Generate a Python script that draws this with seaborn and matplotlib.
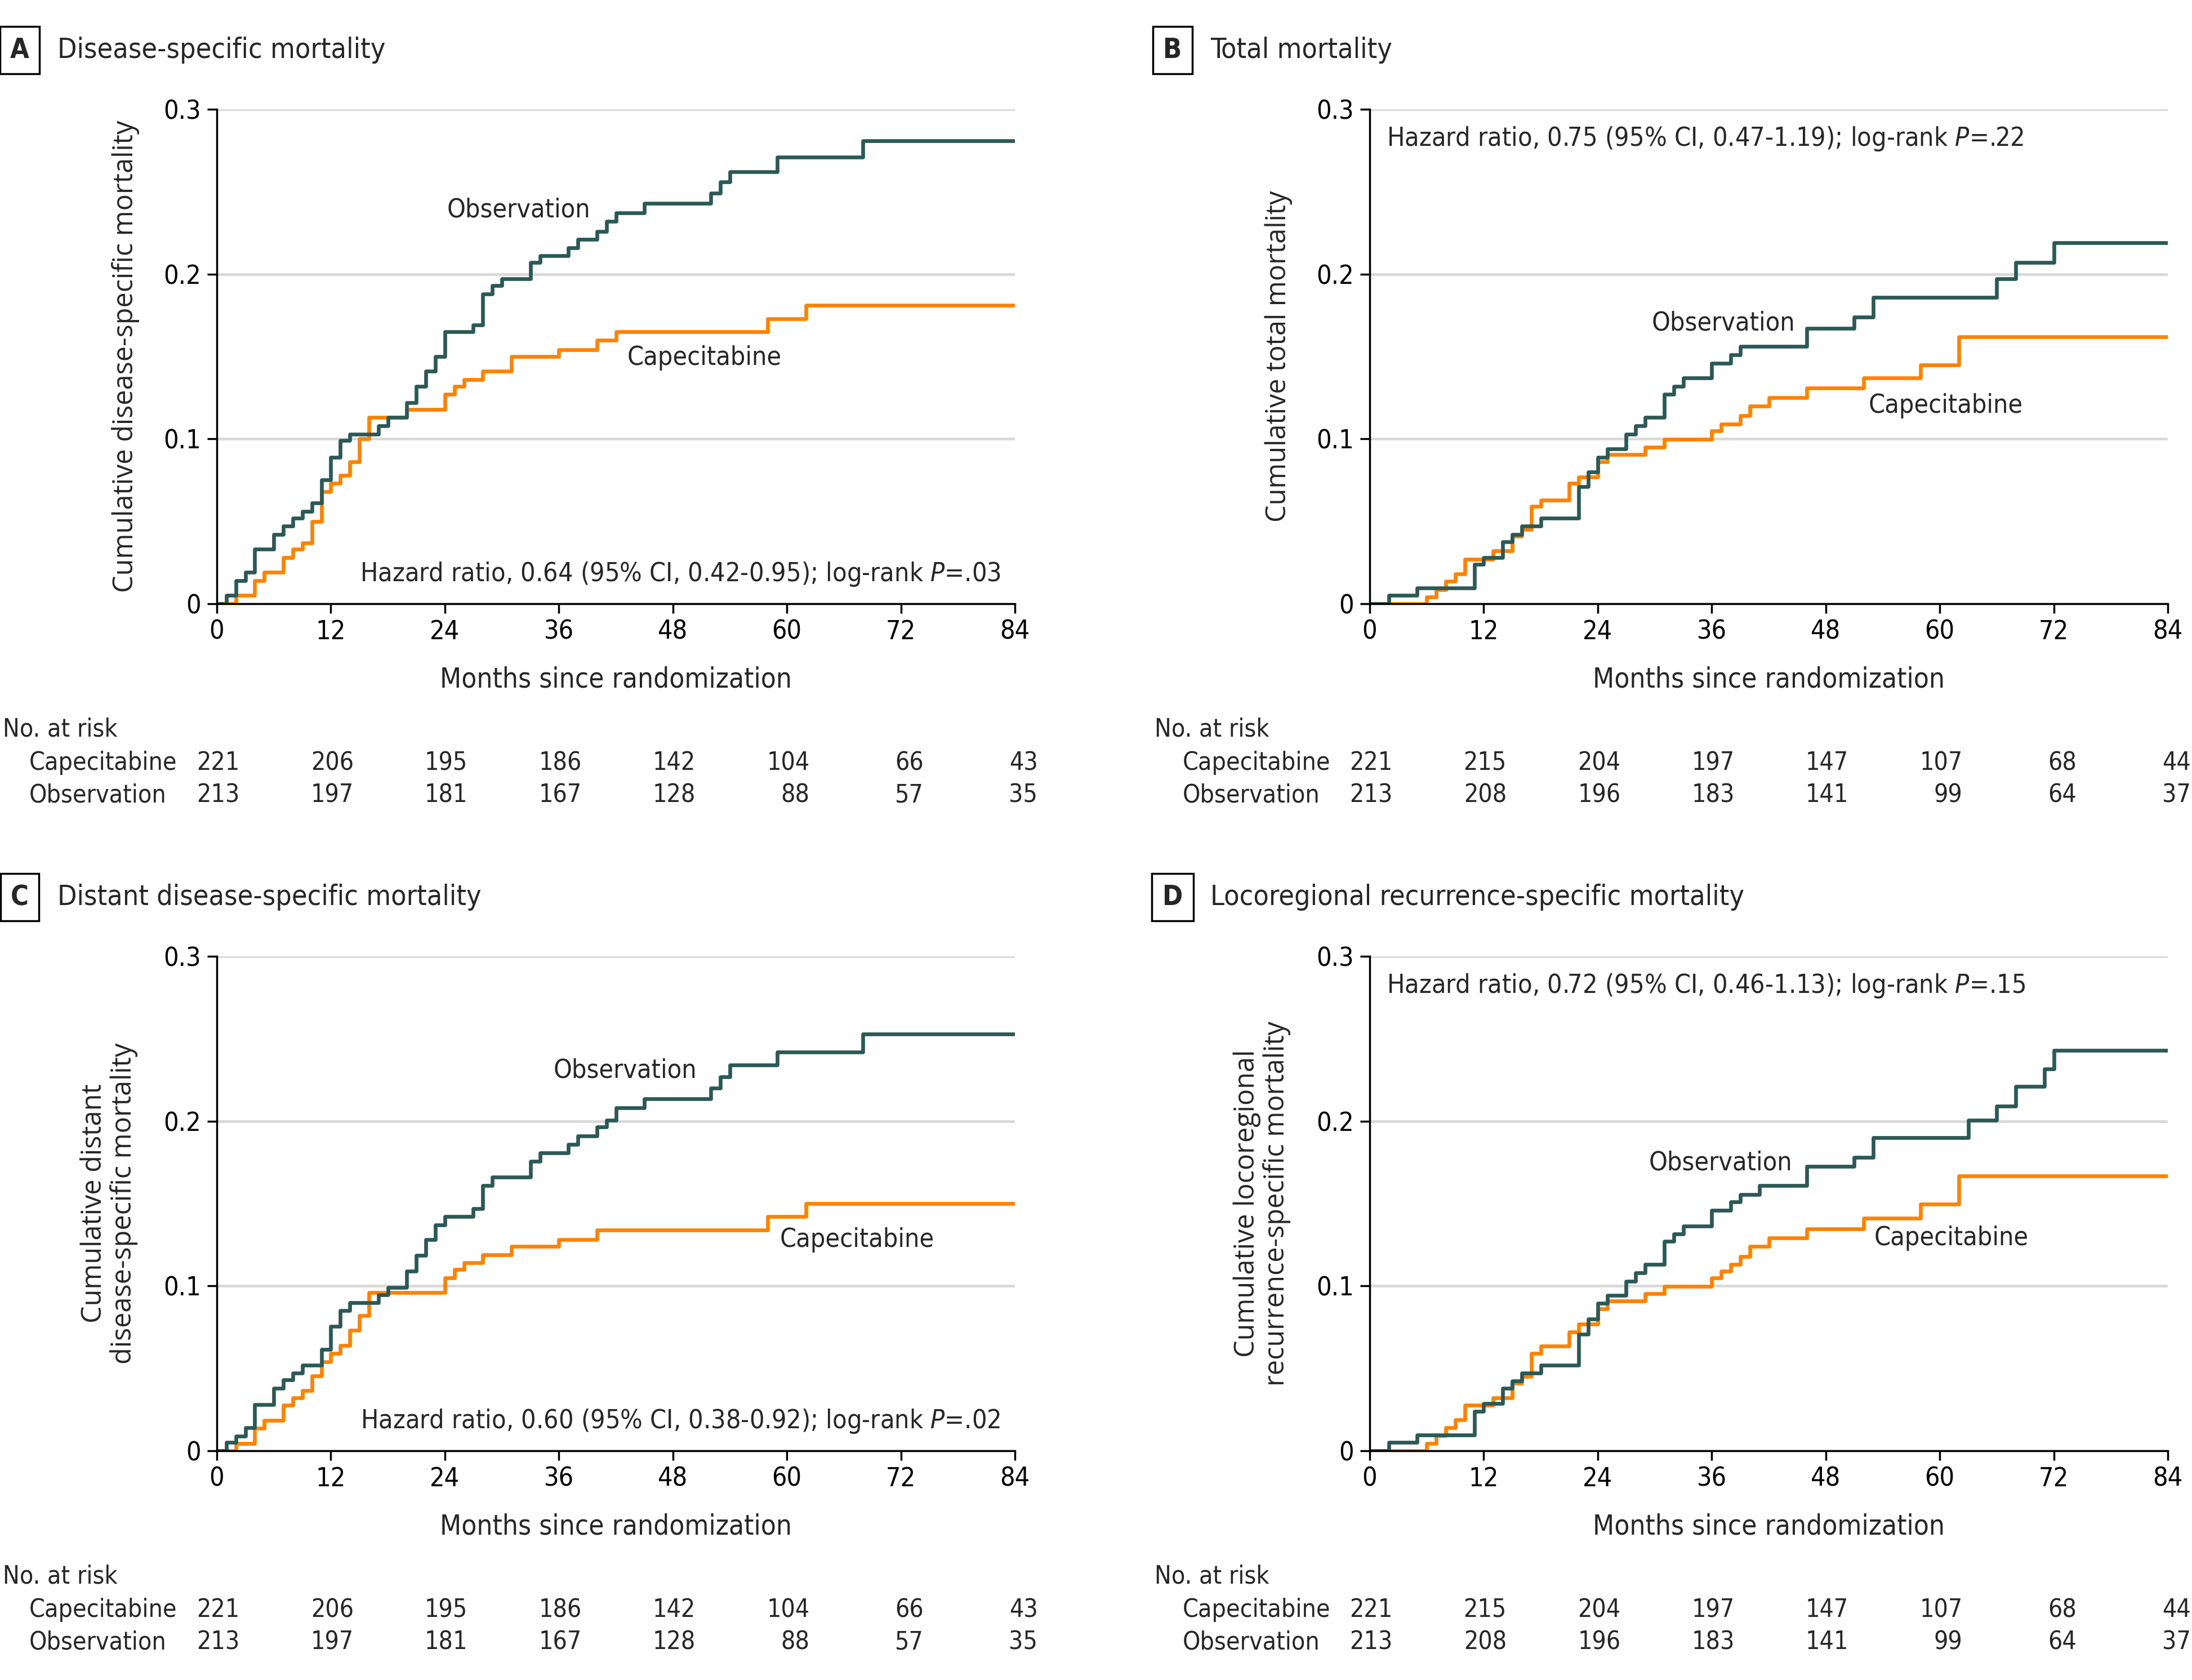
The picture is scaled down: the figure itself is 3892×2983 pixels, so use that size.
import matplotlib
matplotlib.use("Agg")
import matplotlib.pyplot as plt
import matplotlib.transforms as mtransforms
from matplotlib import font_manager
import seaborn as sns
import pandas as pd

# ---- data ------------------------------------------------------------------
months_ticks = [0, 12, 24, 36, 48, 60, 72, 84]

# A: disease-specific mortality
a_obs_t = [0, 1, 2, 3, 4, 6, 7, 8, 9, 10, 11, 12, 13, 14, 17, 18, 20, 21, 22, 23, 24, 27, 28, 29, 30,
           33, 34, 37, 38, 40, 41, 42, 45, 52, 53, 54, 59, 68, 84]
a_obs_y = [0, 0.005, 0.014, 0.019, 0.033, 0.042, 0.047, 0.052, 0.056, 0.061, 0.075, 0.089, 0.099, 0.103,
           0.108, 0.113, 0.122, 0.132, 0.141, 0.150, 0.165, 0.169, 0.188, 0.193, 0.197, 0.207, 0.211,
           0.216, 0.221, 0.226, 0.232, 0.237, 0.243, 0.249, 0.256, 0.262, 0.271, 0.281, 0.281]
a_cap_t = [0, 2, 4, 5, 7, 8, 9, 10, 11, 12, 13, 14, 15, 16, 20, 24, 25, 26, 28, 31, 36, 40, 42, 58, 62, 84]
a_cap_y = [0, 0.005, 0.014, 0.019, 0.028, 0.033, 0.037, 0.050, 0.068, 0.073, 0.078, 0.086, 0.100, 0.113,
           0.118, 0.127, 0.132, 0.136, 0.141, 0.150, 0.154, 0.160, 0.165, 0.173, 0.181, 0.181]

# B: total mortality
b_obs_t = [0, 2, 5, 11, 12, 14, 15, 16, 18, 22, 23, 24, 25, 27, 28, 29, 31, 32, 33, 36, 38, 39, 46, 51,
           53, 66, 68, 72, 84]
b_obs_y = [0, 0.005, 0.0095, 0.024, 0.028, 0.0375, 0.042, 0.047, 0.052, 0.071, 0.080, 0.089, 0.094,
           0.103, 0.108, 0.113, 0.127, 0.132, 0.137, 0.146, 0.151, 0.156, 0.167, 0.174, 0.186, 0.197,
           0.207, 0.219, 0.219]
b_cap_t = [0, 6, 7, 8, 9, 10, 13, 15, 16, 17, 18, 21, 22, 24, 25, 29, 31, 36, 37, 39, 40, 42, 46, 52,
           58, 62, 84]
b_cap_y = [0, 0.004, 0.0087, 0.0136, 0.018, 0.027, 0.032, 0.041, 0.045, 0.059, 0.063, 0.073, 0.077,
           0.086, 0.0905, 0.095, 0.0998, 0.105, 0.109, 0.114, 0.120, 0.125, 0.131, 0.137, 0.145, 0.162,
           0.162]

# C: distant disease-specific mortality
c_obs_t = [0, 1, 2, 3, 4, 6, 7, 8, 9, 11, 12, 13, 14, 17, 18, 20, 21, 22, 23, 24, 27, 28, 29, 33, 34,
           37, 38, 40, 41, 42, 45, 52, 53, 54, 59, 68, 84]
c_obs_y = [0, 0.005, 0.009, 0.014, 0.028, 0.038, 0.043, 0.047, 0.052, 0.0615, 0.0756, 0.085, 0.0897,
           0.0946, 0.099, 0.109, 0.1186, 0.128, 0.137, 0.142, 0.147, 0.161, 0.166, 0.1757, 0.1806,
           0.186, 0.191, 0.1966, 0.2007, 0.208, 0.2135, 0.220, 0.227, 0.234, 0.242, 0.253, 0.253]
c_cap_t = [0, 2, 4, 5, 7, 8, 9, 10, 11, 12, 13, 14, 15, 16, 24, 25, 26, 28, 31, 36, 40, 58, 62, 84]
c_cap_y = [0, 0.0044, 0.0136, 0.0185, 0.0277, 0.032, 0.0364, 0.0454, 0.054, 0.059, 0.064, 0.073, 0.082,
           0.096, 0.105, 0.110, 0.114, 0.119, 0.124, 0.128, 0.134, 0.142, 0.150, 0.150]

# D: locoregional recurrence-specific mortality
d_obs_t = [0, 2, 5, 11, 12, 14, 15, 16, 18, 22, 23, 24, 25, 27, 28, 29, 31, 32, 33, 36, 38, 39, 41, 46,
           51, 53, 63, 66, 68, 71, 72, 84]
d_obs_y = [0, 0.005, 0.0095, 0.024, 0.0286, 0.0378, 0.0424, 0.047, 0.052, 0.0707, 0.080, 0.0895,
           0.0942, 0.103, 0.108, 0.113, 0.127, 0.1316, 0.1365, 0.146, 0.151, 0.1556, 0.161, 0.1727,
           0.178, 0.190, 0.2007, 0.209, 0.221, 0.2317, 0.2429, 0.2429]
d_cap_t = [0, 6, 7, 8, 9, 10, 13, 15, 16, 17, 18, 21, 22, 24, 25, 29, 31, 36, 37, 38, 39, 40, 42, 46,
           52, 58, 62, 84]
d_cap_y = [0, 0.0046, 0.0092, 0.014, 0.0188, 0.0277, 0.032, 0.041, 0.045, 0.059, 0.0634, 0.072, 0.077,
           0.086, 0.091, 0.0953, 0.0998, 0.105, 0.109, 0.113, 0.118, 0.124, 0.129, 0.1346, 0.141,
           0.1496, 0.1667, 0.1667]

# numbers at risk
ad_cap_risk = [221, 206, 195, 186, 142, 104, 66, 43]
ad_obs_risk = [213, 197, 181, 167, 128, 88, 57, 35]
bd_cap_risk = [221, 215, 204, 197, 147, 107, 68, 44]
bd_obs_risk = [213, 208, 196, 183, 141, 99, 64, 37]

titles = ["Disease-specific mortality", "Total mortality",
          "Distant disease-specific mortality", "Locoregional recurrence-specific mortality"]
letters = ["A", "B", "C", "D"]
ylabels = ["Cumulative disease-specific mortality", "Cumulative total mortality",
           "Cumulative distant\ndisease-specific mortality",
           "Cumulative locoregional\nrecurrence-specific mortality"]
hr_texts = ["Hazard ratio, 0.64 (95% CI, 0.42-0.95); log-rank $P$=.03",
            "Hazard ratio, 0.75 (95% CI, 0.47-1.19); log-rank $P$=.22",
            "Hazard ratio, 0.60 (95% CI, 0.38-0.92); log-rank $P$=.02",
            "Hazard ratio, 0.72 (95% CI, 0.46-1.13); log-rank $P$=.15"]

# ---- style ------------------------------------------------------------------
sns.set_style("white")

# look for a condensed/narrow sans face; otherwise use Liberation Sans
narrow, stretch = "Liberation Sans", "normal"
for f in font_manager.fontManager.ttflist:
    nm = f.name
    st = str(f.stretch).lower()
    if f.style == "normal" and ("narrow" in nm.lower() or "condensed" in nm.lower()
                                or "condensed" in st):
        if "mono" in nm.lower() or "serif" in nm.lower():
            continue
        narrow, stretch = nm, f.stretch
        break
names = {f.name for f in font_manager.fontManager.ttflist}
wide = "Open Sans" if "Open Sans" in names else "DejaVu Sans"
is_narrow = narrow != "Liberation Sans"

plt.rcParams["font.family"] = [narrow, "DejaVu Sans"]
plt.rcParams["font.stretch"] = stretch
plt.rcParams["mathtext.fontset"] = "custom"
plt.rcParams["mathtext.it"] = narrow + ":italic"
plt.rcParams["mathtext.rm"] = narrow

OBS = "#2b5955"
CAP = "#ff8200"
FS = 32 if is_narrow else 29

fig = plt.figure(figsize=(38.92, 29.83), dpi=100)
W, H = 3892, 2983

panels = [
    (a_obs_t, a_obs_y, a_cap_t, a_cap_y, ad_cap_risk, ad_obs_risk),
    (b_obs_t, b_obs_y, b_cap_t, b_cap_y, bd_cap_risk, bd_obs_risk),
    (c_obs_t, c_obs_y, c_cap_t, c_cap_y, ad_cap_risk, ad_obs_risk),
    (d_obs_t, d_obs_y, d_cap_t, d_cap_y, bd_cap_risk, bd_obs_risk),
]
# label positions (data coords) for each panel
obs_lab = [(31.8, 0.239), (37.2, 0.170), (43.0, 0.2305), (36.9, 0.1746)]
cap_lab = [(51.3, 0.149), (60.6, 0.120), (67.4, 0.128), (61.2, 0.129)]

lefts = [385, 2432, 385, 2432]
tops = [194, 194, 1698, 1698]
aw, ah = 1417, 878

for i, (ot, oy, ct, cy, cap_risk, obs_risk) in enumerate(panels):
    ax = fig.add_axes([lefts[i] / W, 1 - (tops[i] + ah) / H, aw / W, ah / H])
    df = pd.concat([
        pd.DataFrame({"month": ct, "cum": cy, "arm": "Capecitabine"}),
        pd.DataFrame({"month": ot, "cum": oy, "arm": "Observation"}),
    ])
    sns.lineplot(data=df, x="month", y="cum", hue="arm", estimator=None,
                 palette={"Capecitabine": CAP, "Observation": OBS},
                 drawstyle="steps-post", linewidth=4.8, legend=False, ax=ax)

    ax.set_xlim(0, 84)
    ax.set_ylim(0, 0.3)
    ax.set_xticks(months_ticks)
    ax.set_yticks([0, 0.1, 0.2, 0.3])
    ax.set_yticklabels(["0", "0.1", "0.2", "0.3"])
    ax.grid(axis="y", color="#d9d9d9", linewidth=3.5)
    ax.set_axisbelow(True)
    for s in ["top", "right"]:
        ax.spines[s].set_visible(False)
    for s in ["left", "bottom"]:
        ax.spines[s].set_color("black")
        ax.spines[s].set_linewidth(2.5)
    ax.tick_params(axis="both", direction="out", length=12, width=2.5, labelsize=FS + 1.5,
                   colors="black", pad=8, bottom=True, left=True)

    ax.set_xlabel("Months since randomization", fontsize=FS + 3.5)
    ax.xaxis.set_label_coords(0.5, -0.153)
    ax.xaxis.label.set_va("center")
    ax.set_ylabel(ylabels[i], fontsize=35, family=wide, linespacing=1.1, stretch="normal")
    ax.yaxis.set_label_coords(-0.114 if i < 2 else -0.135, 0.5)
    ax.yaxis.label.set_va("center")

    ax.text(obs_lab[i][0], obs_lab[i][1], "Observation", fontsize=FS + 1.5, ha="center", va="center")
    ax.text(cap_lab[i][0], cap_lab[i][1], "Capecitabine", fontsize=FS + 1.5, ha="center", va="center")
    if i in (0, 2):
        ax.text(82.5, 0.018, hr_texts[i], fontsize=FS + 1.5, ha="right", va="center")
    else:
        ax.text(1.8, 0.282, hr_texts[i], fontsize=FS + 1.5, ha="left", va="center")

    # panel letter + title
    tx = (35 if i % 2 == 0 else 2082) / W
    ty = 1 - (89 if i < 2 else 1593) / H
    fig.text(tx, ty, letters[i], fontsize=FS + 3, fontweight="bold", ha="center", va="center",
             bbox=dict(boxstyle="square,pad=0.38", fc="white", ec="black", lw=2.5))
    fig.text(tx + 67 / W, ty, titles[i], fontsize=FS + 4, ha="left", va="center")

    # number at risk table
    trans = mtransforms.blended_transform_factory(ax.transData, ax.transAxes)
    ftrans = mtransforms.blended_transform_factory(fig.transFigure, ax.transAxes)
    lab_x = (5 if i % 2 == 0 else 2050) / W
    row_lab_x = (52 if i % 2 == 0 else 2100) / W
    ax.text(lab_x, -0.254, "No. at risk", transform=ftrans, fontsize=FS, ha="left", va="center")
    ax.text(row_lab_x, -0.322, "Capecitabine", transform=ftrans, fontsize=FS, ha="left", va="center")
    ax.text(row_lab_x, -0.387, "Observation", transform=ftrans, fontsize=FS, ha="left", va="center")
    for m, cr, orr in zip(months_ticks, cap_risk, obs_risk):
        ax.text(m + 2.4, -0.322, str(cr), transform=trans, fontsize=FS, ha="right", va="center",
                clip_on=False)
        ax.text(m + 2.4, -0.387, str(orr), transform=trans, fontsize=FS, ha="right", va="center",
                clip_on=False)

fig.savefig("out.png", dpi=100, facecolor="white")
